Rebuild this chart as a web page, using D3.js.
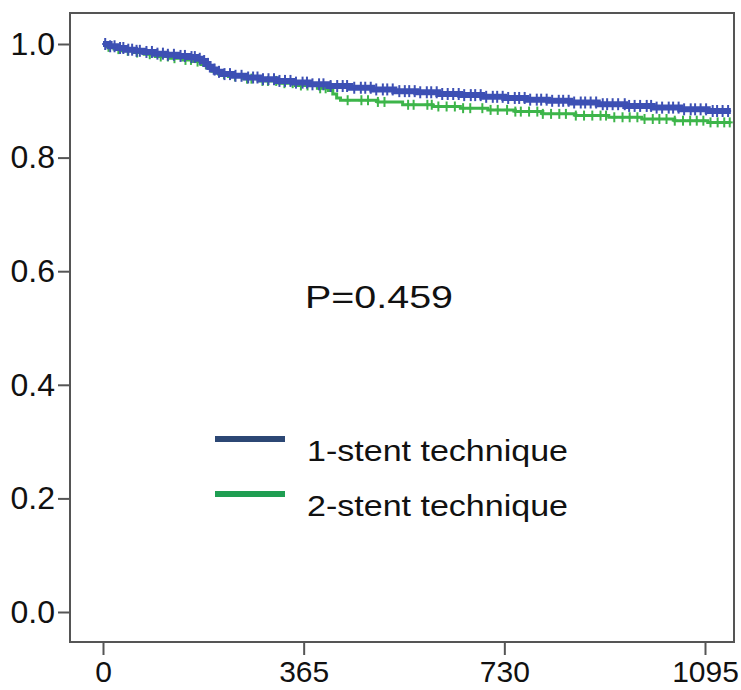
<!DOCTYPE html>
<html>
<head>
<meta charset="utf-8">
<script src="https://cdn.jsdelivr.net/npm/d3@7"></script>
<style>
  body { margin: 0; background: #fff; }
  svg text { font-family: "Liberation Sans", Arial, sans-serif; fill: #111; }
</style>
</head>
<body>
<div id="chart"></div>
<script>
const width = 741,
  height = 690;

// Kaplan-Meier steps (day, survival)
const oneStentDays = [0, 12, 25, 40, 58, 75, 95, 115, 135, 155, 170, 180, 186, 192, 198, 205, 215, 235, 260, 285, 315, 345, 375, 410, 450, 490, 530, 570, 610, 650, 690, 730, 770, 810, 850, 900, 950, 1000, 1050, 1100, 1142];
const oneStentSurv = [1.000, 0.996, 0.993, 0.990, 0.988, 0.986, 0.983, 0.981, 0.979, 0.977, 0.974, 0.970, 0.965, 0.960, 0.955, 0.951, 0.947, 0.944, 0.941, 0.938, 0.935, 0.932, 0.929, 0.926, 0.923, 0.920, 0.917, 0.915, 0.912, 0.910, 0.907, 0.905, 0.902, 0.900, 0.897, 0.894, 0.891, 0.888, 0.885, 0.882, 0.882];

const twoStentDays = [0, 8, 20, 35, 55, 75, 95, 120, 145, 165, 178, 188, 198, 210, 228, 255, 285, 320, 350, 390, 410, 418, 425, 432, 500, 545, 600, 650, 700, 750, 800, 860, 920, 980, 1040, 1100, 1142];
const twoStentSurv = [1.000, 0.995, 0.991, 0.988, 0.985, 0.982, 0.978, 0.975, 0.972, 0.969, 0.964, 0.958, 0.952, 0.947, 0.943, 0.939, 0.935, 0.931, 0.927, 0.922, 0.918, 0.912, 0.905, 0.901, 0.898, 0.893, 0.890, 0.887, 0.884, 0.881, 0.877, 0.874, 0.871, 0.868, 0.865, 0.862, 0.862];

// censored observations (days)
const oneStentCensor = [4, 13, 21, 31, 37, 46, 53, 61, 67, 79, 89, 99, 109, 118, 129, 141, 149, 161, 167, 176, 184, 191, 203, 211, 221, 231, 241, 252, 264, 273, 281, 291, 301, 311, 321, 331, 341, 351, 363, 371, 381, 393, 401, 414, 426, 436, 444, 457, 469, 477, 487, 497, 509, 517, 527, 539, 549, 557, 567, 577, 589, 597, 607, 617, 627, 637, 647, 657, 669, 677, 687, 697, 709, 717, 727, 737, 749, 757, 767, 777, 789, 797, 807, 817, 829, 837, 847, 857, 869, 877, 887, 897, 909, 917, 927, 937, 949, 957, 967, 977, 989, 997, 1007, 1017, 1029, 1037, 1047, 1057, 1069, 1077, 1087, 1097, 1109, 1117, 1127, 1137];
const twoStentCensor = [10, 28, 45, 62, 85, 105, 118, 130, 150, 160, 172, 220, 240, 262, 270, 290, 300, 315, 330, 345, 360, 372, 395, 405, 445, 470, 482, 500, 512, 555, 565, 590, 598, 610, 625, 640, 655, 668, 690, 705, 718, 735, 750, 760, 775, 790, 800, 815, 830, 842, 860, 875, 890, 905, 915, 930, 945, 958, 972, 985, 1000, 1012, 1025, 1040, 1055, 1068, 1080, 1092, 1105, 1118, 1130, 1140];

const xTicks = [0, 365, 730, 1095];
const yTicks = [0, 0.2, 0.4, 0.6, 0.8, 1.0];
const legendLabels = ["1-stent technique", "2-stent technique"];
const pText = "P=0.459";

const svg = d3.select("#chart")
  .append("svg")
  .attr("width", width)
  .attr("height", height);

const x = d3.scaleLinear().domain([0, 1095]).range([103, 705]);
const y = d3.scaleLinear().domain([0, 1]).range([612, 44]);

// frame
svg.append("rect")
  .attr("x", 70).attr("y", 13)
  .attr("width", 664).attr("height", 629)
  .attr("fill", "none")
  .attr("stroke", "#555")
  .attr("stroke-width", 2);

const yAxis = svg.append("g")
  .attr("transform", "translate(70,0)")
  .call(d3.axisLeft(y).tickValues(yTicks).tickFormat(d3.format(".1f")).tickSize(12).tickPadding(3));
const xAxis = svg.append("g")
  .attr("transform", "translate(0,643)")
  .call(d3.axisBottom(x).tickValues(xTicks).tickFormat(d3.format("d")).tickSize(12).tickPadding(6));

[yAxis, xAxis].forEach(g => {
  g.select(".domain").remove();
  g.selectAll("line").attr("stroke", "#555").attr("stroke-width", 2);
  g.selectAll("text").attr("fill", "#111");
});
yAxis.selectAll("text").style("font-size", "32px");
xAxis.selectAll("text").style("font-size", "30px");

function drawCurve(days, surv, censor, color, lw, arm) {
  const pts = days.map((d, i) => [d, surv[i]]);
  const line = d3.line()
    .x(d => x(d[0]))
    .y(d => y(d[1]))
    .curve(d3.curveStepAfter);
  svg.append("path")
    .datum(pts)
    .attr("fill", "none")
    .attr("stroke", color)
    .attr("stroke-width", lw)
    .attr("d", line);

  const bis = d3.bisector(d => d).right;
  const marks = svg.append("g").attr("stroke", color).attr("stroke-width", 2);
  censor.forEach(t => {
    const s = surv[Math.max(0, bis(days, t) - 1)];
    const cx = x(t), cy = y(s);
    marks.append("line").attr("x1", cx).attr("x2", cx).attr("y1", cy - arm).attr("y2", cy + arm);
    marks.append("line").attr("x1", cx - 3).attr("x2", cx + 3).attr("y1", cy).attr("y2", cy);
  });
}

drawCurve(twoStentDays, twoStentSurv, twoStentCensor, "#3db54a", 3, 5);
drawCurve(oneStentDays, oneStentSurv, oneStentCensor, "#3d50b4", 6, 6);

svg.append("text")
  .attr("x", 305).attr("y", 308)
  .attr("textLength", 148)
  .attr("lengthAdjust", "spacingAndGlyphs")
  .style("font-size", "32px")
  .text(pText);

const legendColors = ["#2c4774", "#1f9e52"];
legendLabels.forEach((lab, i) => {
  const ly = 439 + i * 55;
  svg.append("line")
    .attr("x1", 215).attr("x2", 285)
    .attr("y1", ly).attr("y2", ly)
    .attr("stroke", legendColors[i])
    .attr("stroke-width", 6);
  svg.append("text")
    .attr("x", 307).attr("y", ly + 22)
    .attr("textLength", 261)
    .attr("lengthAdjust", "spacingAndGlyphs")
    .style("font-size", "30px")
    .text(lab);
});
</script>
</body>
</html>
